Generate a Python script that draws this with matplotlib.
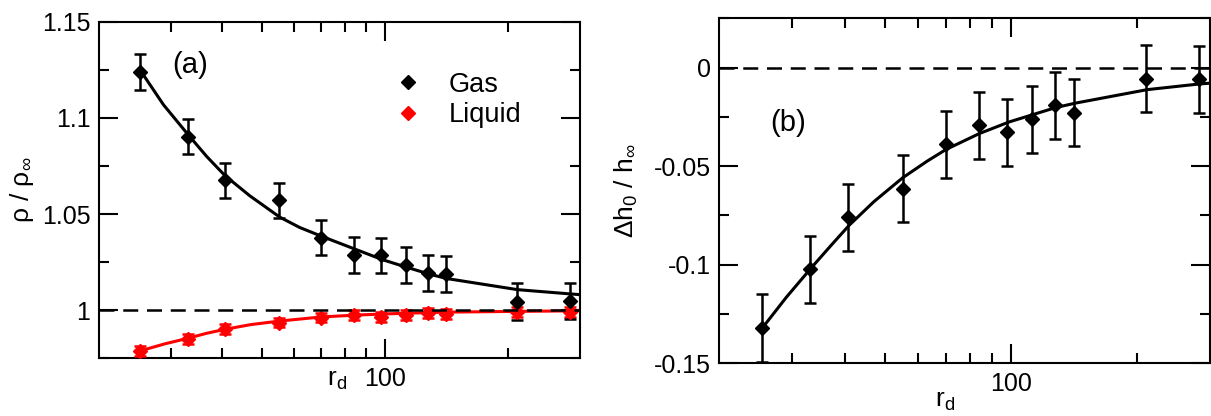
import numpy as np
import matplotlib
matplotlib.use("Agg")
import matplotlib.pyplot as plt
from matplotlib.ticker import FixedLocator, NullFormatter, MultipleLocator, FormatStrFormatter, FixedFormatter

plt.rcParams['font.family'] = ['Liberation Sans', 'DejaVu Sans']
plt.rcParams['mathtext.fontset'] = 'custom'
plt.rcParams['mathtext.rm'] = 'Liberation Sans'
plt.rcParams['mathtext.it'] = 'Liberation Sans'
plt.rcParams['axes.unicode_minus'] = False

# r_d of the simulated drops
r_d = [25.3, 33, 40.8, 55.2, 70, 84, 98, 112.5, 127.5, 141.5, 211, 283]

# panel (a): density ratio
gas = [1.1240, 1.0903, 1.0675, 1.0572, 1.0378, 1.0287, 1.0285, 1.0235, 1.0192, 1.0187, 1.0045, 1.0048]
gas_err = [0.0093, 0.0093, 0.0093, 0.0092, 0.0093, 0.0093, 0.0093, 0.0093, 0.0093, 0.0093, 0.0095, 0.0095]
liquid = [0.9789, 0.9850, 0.9902, 0.9936, 0.9962, 0.9976, 0.9964, 0.9976, 0.9984, 0.9979, 0.9990, 0.9990]
liquid_err = [0.0025] * 12

# fitted curves
gas_fit_x = [25.3, 28.8, 33.1, 36.7, 40.7, 46.8, 55.4, 62, 70, 84.5, 99, 112.5, 127.5, 141.5, 211, 283, 300]
gas_fit_y = [1.1246, 1.1068, 1.0912, 1.0800, 1.0700, 1.0595, 1.0484, 1.0430, 1.0385, 1.0318, 1.0262,
             1.0225, 1.0190, 1.0165, 1.0107, 1.0085, 1.0081]
liq_fit_x = [25.3, 29, 33, 36.7, 41, 47, 55, 70, 84, 98, 120, 141.5, 211, 300]
liq_fit_y = [0.9789, 0.9825, 0.9854, 0.9880, 0.9902, 0.9925, 0.9943, 0.9965, 0.9974, 0.9980, 0.9986,
             0.9990, 0.9994, 0.9997]

# panel (b): height shift
dh = [-0.1321, -0.1024, -0.0760, -0.0615, -0.0389, -0.0292, -0.0327, -0.0261, -0.0192, -0.0229, -0.0056, -0.0058]
dh_err = [0.017] * 12
dh_fit_x = [25.4, 29, 33.3, 37, 41, 47, 55, 63, 70, 84, 99, 128, 143, 212, 283, 300]
dh_fit_y = [-0.1321, -0.1165, -0.1015, -0.0905, -0.0800, -0.0680, -0.0560, -0.0475, -0.0415, -0.0335,
            -0.0276, -0.0203, -0.0180, -0.0112, -0.0083, -0.0079]

fs = 18
fig = plt.figure(figsize=(12.11, 4.16), dpi=100)
ax1 = fig.add_axes([0.0815, 0.1387, 0.3974, 0.8091])
ax2 = fig.add_axes([0.5937, 0.1267, 0.4055, 0.8293])

eb = dict(ms=7.5, capsize=4, elinewidth=1.8, capthick=1.8, clip_on=False, zorder=3)


def style(ax):
    ax.set_xscale('log')
    ax.set_xlim(20, 300)
    ax.xaxis.set_major_locator(FixedLocator([100]))
    ax.xaxis.set_major_formatter(FixedFormatter(['100']))
    ax.xaxis.set_minor_locator(FixedLocator([30, 40, 50, 60, 70, 80, 90, 200]))
    ax.xaxis.set_minor_formatter(NullFormatter())
    ax.yaxis.set_major_formatter(FormatStrFormatter('%g'))
    ax.tick_params(which='both', direction='in', top=True, right=True, width=1.5, labelsize=fs)
    ax.tick_params(which='major', length=13.5, pad=6)
    ax.tick_params(which='minor', length=7)
    for s in ax.spines.values():
        s.set_linewidth(1.5)


style(ax1)
ax1.set_ylim(0.975, 1.15)
ax1.yaxis.set_major_locator(MultipleLocator(0.05))
ax1.yaxis.set_minor_locator(MultipleLocator(0.025))
ax1.plot(gas_fit_x, gas_fit_y, color='black', lw=2.2)
ax1.plot(liq_fit_x, liq_fit_y, color='red', lw=2.2)
ax1.errorbar(r_d, liquid, yerr=liquid_err, fmt='D', color='red', **eb)
ax1.errorbar(r_d, gas, yerr=gas_err, fmt='D', color='black', **eb)
ax1.axhline(1, color='black', lw=1.8, ls=(0, (6, 3.5)), zorder=4)
ax1.text(0.152, 0.871, '(a)', transform=ax1.transAxes, fontsize=21, ha='left', va='center')
h1 = ax1.plot([], [], 'D', color='black', ms=7.5)[0]
h2 = ax1.plot([], [], 'D', color='red', ms=7.5)[0]
ax1.legend([h1, h2], ['Gas', 'Liquid'], loc='upper left', bbox_to_anchor=(0.615, 0.852),
           frameon=False, fontsize=19.5, handlelength=1.0, handletextpad=1.0, borderpad=0,
           labelspacing=0.17, borderaxespad=0)
ax1.set_ylabel(r'ρ / ρ$_\infty$', fontsize=19)
ax1.yaxis.set_label_coords(-0.13, 0.5)
ax1.set_xlabel(r'r$_{\rm d}$', fontsize=19)
ax1.xaxis.set_label_coords(0.495, -0.03)

style(ax2)
ax2.set_ylim(-0.15, 0.025)
ax2.yaxis.set_major_locator(MultipleLocator(0.05))
ax2.yaxis.set_minor_locator(MultipleLocator(0.025))
ax2.plot(dh_fit_x, dh_fit_y, color='black', lw=2.2)
ax2.errorbar(r_d, dh, yerr=dh_err, fmt='D', color='black', **eb)
ax2.axhline(0, color='black', lw=1.8, ls=(0, (6, 3.5)), zorder=4)
ax2.text(0.104, 0.696, '(b)', transform=ax2.transAxes, fontsize=21, ha='left', va='center')
ax2.set_ylabel(r'Δh$_0$ / h$_\infty$', fontsize=19)
ax2.yaxis.set_label_coords(-0.16, 0.5)
ax2.set_xlabel(r'r$_{\rm d}$', fontsize=19)
ax2.xaxis.set_label_coords(0.46, -0.075)

fig.savefig('out.png', dpi=100)
